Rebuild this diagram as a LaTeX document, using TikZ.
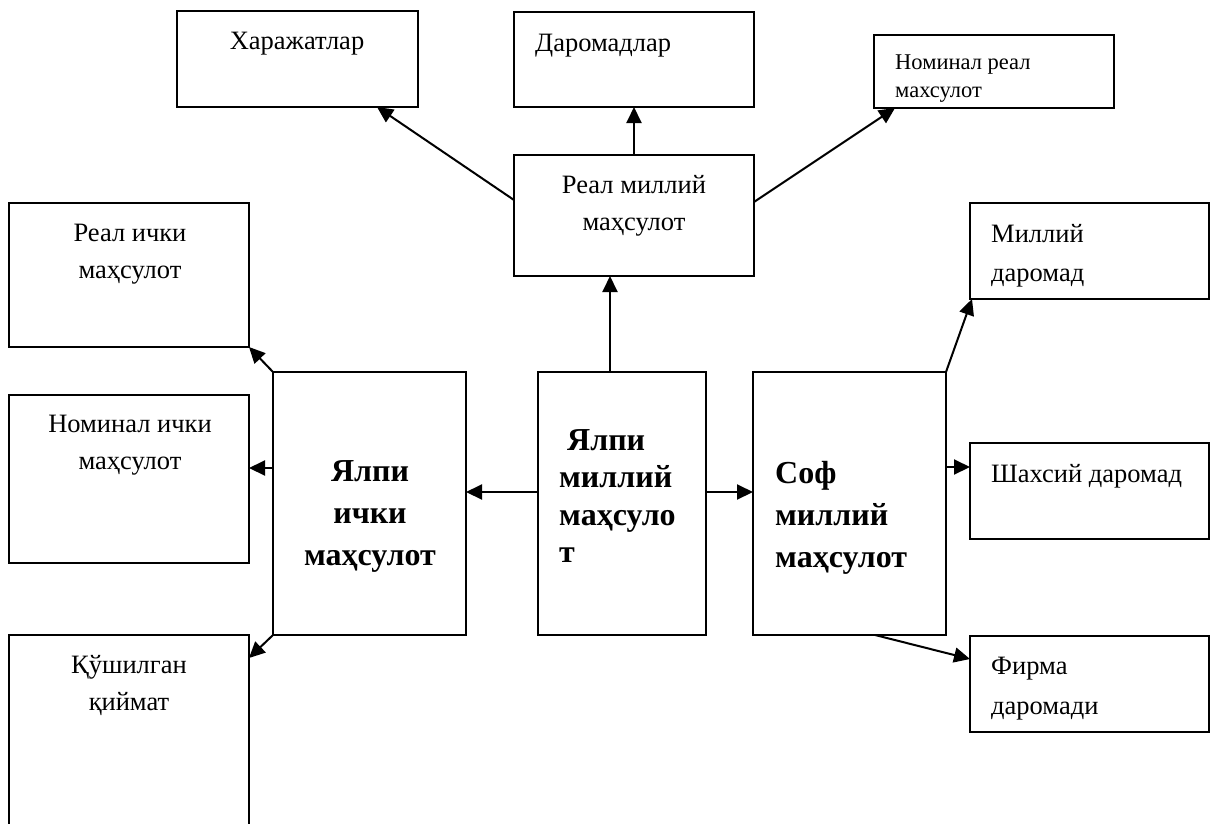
\documentclass[tikz,border=0pt]{standalone}
\usepackage{fontspec}
\setmainfont{Liberation Serif}
\usetikzlibrary{arrows.meta}

\begin{document}
\begin{tikzpicture}
[x=1pt,y=-1pt,%
  boxdecorate/.style={shape=rectangle,draw,line width=1.6pt,inner sep=0pt,outer sep=0pt},%
  textdecorate/.style={inner sep=0pt,font=\fontsize{26.5}{37}\selectfont},%
  smalltextdecorate/.style={inner sep=0pt,font=\fontsize{22.5}{28}\selectfont},%
  boldtextdecorate/.style={inner sep=0pt,font=\fontsize{32}{42}\selectfont\bfseries},%
  linedecorate/.style={-{Triangle[length=16pt,width=15pt]},line width=2pt}]
\fill[white] (0,0) rectangle (1211,823);
\useasboundingbox (0,0) rectangle (1211,823);
%% boxes
\foreach \nodename/\x/\y/\w/\h in {hr/297.5/59/241/96, dr/634/59.5/240/95,
  nr/994/71.5/240/73, rm/634/215.5/240/121, ri/129/275/240/144,
  ni/129/479/240/168, qq/129/735/240/200, yi/369.5/503.5/193/263,
  ym/622/503.5/168/263, sm/849.5/503.5/193/263, md/1089.5/251/239/96,
  sd/1089.5/491/239/96, fd/1089.5/684/239/96}
{
  \node (\nodename) at (\x,\y) [boxdecorate,minimum width=\w*1pt,minimum height=\h*1pt] {};
}
%% texts
\node (hrtext) at (297,32) [textdecorate,anchor=north] {Харажатлар};
\node (drtext) at (535,34) [textdecorate,anchor=north west] {Даромадлар};
\node (nrtext) at (895,55) [smalltextdecorate,anchor=north west,align=left] {Номинал реал\\махсулот};
\node (rmtext) at (634,175) [textdecorate,anchor=north,align=center] {Реал миллий\\маҳсулот};
\node (ritext) at (130,224) [textdecorate,anchor=north,align=center] {Реал ички\\маҳсулот};
\node (nitext) at (130,415) [textdecorate,anchor=north,align=center] {Номинал ички\\маҳсулот};
\node (qqtext) at (129,655) [textdecorate,anchor=north,align=center] {Қўшилган\\қиймат};
\node (yitext) at (370,460) [boldtextdecorate,anchor=north,align=center] {Ялпи\\ички\\маҳсулот};
\node (ymtext) at (559,429) [boldtextdecorate,font=\fontsize{32}{37.5}\selectfont\bfseries,anchor=north west,align=left] {\ Ялпи\\миллий\\маҳсуло\\т};
\node (smtext) at (775,461) [boldtextdecorate,anchor=north west,align=left] {Соф\\миллий\\маҳсулот};
\node (mdtext) at (991,224) [textdecorate,font=\fontsize{26.5}{39}\selectfont,anchor=north west,align=left] {Миллий\\даромад};
\node (sdtext) at (991,464) [textdecorate,anchor=north west] {Шахсий даромад};
\node (fdtext) at (991,657) [textdecorate,font=\fontsize{26.5}{40}\selectfont,anchor=north west,align=left] {Фирма\\даромади};
%% arrows
\draw[linedecorate] ([yshift=15.5pt]rm.west) -- ([xshift=79.5pt]hr.south);
\draw[linedecorate] (rm.north) -- (dr.south);
\draw[linedecorate] ([yshift=13.5pt]rm.east) -- ([xshift=21pt]nr.south west);
\draw[linedecorate] ([xshift=-12pt]ym.north) -- ([xshift=-24pt]rm.south);
\draw[linedecorate] ([yshift=11.5pt]ym.west) -- ([yshift=11.5pt]yi.east);
\draw[linedecorate] ([yshift=11.5pt]ym.east) -- ([yshift=11.5pt]sm.west);
\draw[linedecorate] (yi.north west) -- (ri.south east);
\draw[linedecorate] ([yshift=35.5pt]yi.west) -- ([yshift=11pt]ni.east);
\draw[linedecorate] (yi.south west) -- ([yshift=-23pt]qq.north east);
\draw[linedecorate] (sm.north east) -- ([xshift=2pt]md.south west);
\draw[linedecorate] ([yshift=36.5pt]sm.east) -- ([yshift=24pt]sd.west);
\draw[linedecorate] ([xshift=25.5pt]sm.south) -- ([yshift=25pt]fd.west);
\end{tikzpicture}
\end{document}
